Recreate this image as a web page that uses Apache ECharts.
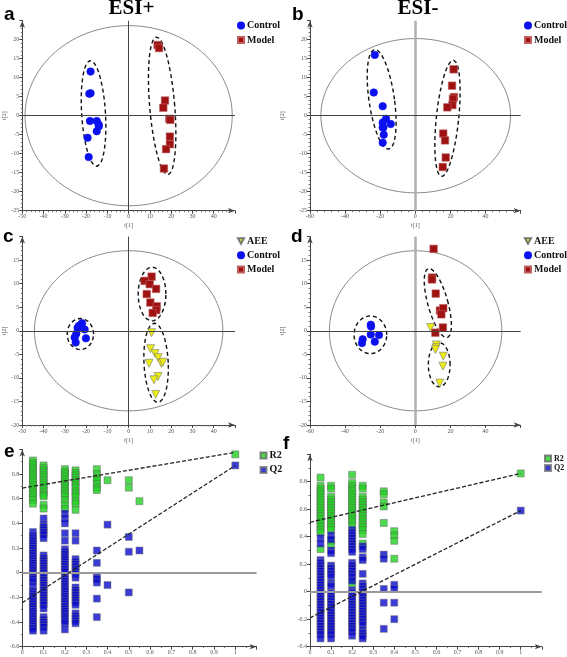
<!DOCTYPE html>
<html><head><meta charset="utf-8">
<script src="https://cdn.jsdelivr.net/npm/echarts@6/dist/echarts.min.js"></script>
<style>html,body{margin:0;padding:0;background:#fff}#c{width:567px;height:657px}</style>
</head><body><div id="c"></div>
<script>
// ---------- DATA ----------
// Score plots (t[1], t[2])
const aControl = [[-17.9,11.6],[-18.5,5.8],[-17.9,5.9],[-18.2,-1.4],[-15.0,-1.4],[-14.1,-2.3],[-14.0,-2.8],[-15.0,-4.1],[-19.3,-5.8],[-18.8,-10.9]];
const aModel   = [[13.6,18.6],[14.3,17.8],[17.1,4.0],[16.3,2.1],[19.1,-0.8],[19.6,-1.1],[19.4,-5.5],[19.4,-7.5],[17.6,-8.8],[16.6,-13.9]];
const bControl = [[-23.1,16.0],[-23.7,6.1],[-18.6,2.5],[-16.7,-0.8],[-18.6,-1.8],[-18.2,-3.1],[-18.6,-3.1],[-14.0,-2.2],[-18.0,-5.0],[-18.6,-7.1]];
const bModel   = [[21.8,12.2],[20.9,7.9],[22.0,4.9],[21.4,4.4],[21.1,2.8],[18.2,2.2],[15.9,-4.7],[16.9,-6.5],[17.3,-11.0],[15.6,-13.5]];
const cControl = [[-21.9,1.6],[-22.9,1.1],[-23.5,1.0],[-24.0,0.6],[-20.7,0.3],[-24.6,-0.6],[-25.4,-1.4],[-20.1,-1.6],[-24.9,-2.5]];
const cModel   = [[10.8,11.5],[7.5,10.6],[9.9,9.9],[12.9,8.9],[8.5,7.8],[10.2,6.0],[13.2,5.2],[13.0,4.4],[11.3,3.8]];
const cAEE     = [[10.8,-0.4],[10.3,-3.8],[12.4,-4.8],[13.9,-5.7],[9.6,-6.9],[15.4,-6.9],[16.1,-6.7],[13.8,-9.7],[11.9,-10.4],[12.7,-13.5]];
const dControl = [[-25.4,1.3],[-25.2,0.9],[-25.4,-0.8],[-20.7,-0.9],[-23.1,-2.3],[-30.0,-1.8],[-30.4,-2.6]];
const dModel   = [[10.4,17.4],[9.5,11.3],[9.5,10.9],[11.6,7.9],[14.0,4.3],[15.9,4.8],[14.8,3.5],[15.7,0.7],[11.4,-0.4]];
const dAEE     = [[8.7,0.7],[12.0,-3.0],[11.8,-3.6],[11.4,-4.0],[15.9,-5.4],[15.7,-7.5],[13.9,-11.1]];

// Ellipses: [cx, cy, rx, ry, shear]
const aEllipses = [[0,0,48.7,23.7,0],[-16.5,0.6,5.6,13.9,-1.45],[15.75,2.6,5.9,18.1,-2.6]];
const bEllipses = [[0.2,0,54,20.3,0],[-19.2,4.3,7.3,13.1,-3.8],[18.3,-0.7,6.4,15.3,3.3]];
const cEllipses = [[0,0,44.3,17,0],[-22.7,-0.7,6.2,3.3,0],[11,7.8,6.5,5.7,0],[12.9,-6.8,5.7,8.4,-0.8]];
const dEllipses = [[0.15,0,49.1,17,0],[-25.6,-0.85,9.3,4.0,0],[12.8,5.9,5.9,7.35,-5.0],[13.6,-7.2,6.2,4.7,0]];

// Permutation tests
const permX = [0.05,0.1,0.2,0.25,0.35,0.4,0.5,0.55,1];
const eR2 = [
 [0.91,0.89,0.87,0.85,0.83,0.81,0.79,0.77,0.75,0.73,0.71,0.69,0.67,0.65,0.63,0.61,0.59,0.56],
 [0.87,0.85,0.83,0.81,0.79,0.77,0.75,0.73,0.71,0.69,0.67,0.65,0.63,0.62,0.55,0.52],
 [0.84,0.82,0.80,0.78,0.76,0.74,0.72,0.70,0.68,0.66,0.64,0.62,0.59,0.55,0.52],
 [0.83,0.81,0.79,0.77,0.75,0.73,0.71,0.69,0.66,0.64,0.62,0.58,0.56,0.51],
 [0.84,0.80,0.77,0.75,0.72,0.69,0.67],
 [0.75],
 [0.75,0.69],
 [0.58],
 [0.96]
];
const eQ2 = [
 [0.33,0.30,0.28,0.26,0.24,0.22,0.20,0.18,0.16,0.14,0.12,0.10,0.08,0.06,0.04,0.02,0.00,-0.02,-0.05,-0.07,-0.11,-0.15,-0.17,-0.19,-0.21,-0.23,-0.25,-0.27,-0.29,-0.31,-0.33,-0.35,-0.37,-0.39,-0.41,-0.43,-0.45,-0.47],
 [0.44,0.39,0.37,0.35,0.33,0.31,0.28,0.14,0.12,0.10,0.08,0.06,0.04,0.02,0.00,-0.02,-0.04,-0.06,-0.08,-0.10,-0.12,-0.14,-0.16,-0.18,-0.20,-0.22,-0.24,-0.26,-0.29,-0.36,-0.38,-0.40,-0.42,-0.44,-0.47],
 [0.48,0.44,0.40,0.32,0.26,0.19,0.17,0.15,0.13,0.11,0.09,0.07,0.05,0.03,0.01,-0.03,-0.05,-0.07,-0.09,-0.11,-0.13,-0.15,-0.17,-0.19,-0.21,-0.23,-0.25,-0.27,-0.29,-0.31,-0.33,-0.35,-0.37,-0.39,-0.41,-0.46],
 [0.32,0.26,0.11,0.09,0.07,0.05,0.03,0.01,-0.01,-0.04,-0.12,-0.14,-0.16,-0.18,-0.20,-0.22,-0.24,-0.26,-0.33,-0.35,-0.37,-0.39,-0.41],
 [0.18,0.08,-0.03,-0.05,-0.08,-0.21,-0.36],
 [0.39,-0.10],
 [0.29,0.17,-0.16],
 [0.18],
 [0.87]
];
const eR2Line = [0.686, 0.976];
const eQ2Line = [-0.243, 0.87];

const fPermX = [0.05,0.1,0.2,0.25,0.35,0.4,1];
const fR2 = [
 [0.83,0.77,0.75,0.73,0.71,0.69,0.67,0.65,0.63,0.61,0.59,0.57,0.55,0.53,0.51,0.49,0.47,0.45,0.43,0.31],
 [0.77,0.75,0.69,0.67,0.65,0.63,0.61,0.59,0.57,0.55,0.53,0.51,0.49,0.47,0.45,0.37,0.34],
 [0.85,0.79,0.77,0.75,0.73,0.71,0.69,0.67,0.65,0.63,0.61,0.59,0.57,0.55,0.53,0.51,0.48,0.06],
 [0.77,0.75,0.69,0.67,0.65,0.63,0.61,0.59,0.57,0.55,0.53,0.51,0.49,0.47,0.45,0.42,0.35],
 [0.73,0.71,0.65,0.62,0.50],
 [0.44,0.41,0.37,0.24],
 [0.86]
];
const fQ2 = [
 [0.39,0.35,0.23,0.21,0.19,0.17,0.15,0.13,0.11,0.09,0.07,0.05,0.03,0.01,-0.01,-0.03,-0.05,-0.07,-0.09,-0.11,-0.13,-0.15,-0.17,-0.19,-0.21,-0.23,-0.25,-0.27,-0.29,-0.31,-0.34],
 [0.41,0.38,0.30,0.28,0.19,0.17,0.15,0.13,0.11,0.06,0.04,-0.01,-0.03,-0.05,-0.07,-0.09,-0.11,-0.13,-0.15,-0.17,-0.19,-0.21,-0.23,-0.25,-0.27,-0.29,-0.31,-0.34],
 [0.45,0.43,0.41,0.39,0.37,0.35,0.33,0.31,0.29,0.21,0.19,0.17,0.15,0.13,0.11,0.08,0.01,-0.01,-0.03,-0.05,-0.07,-0.09,-0.11,-0.13,-0.15,-0.17,-0.19,-0.21,-0.23,-0.25,-0.27,-0.29,-0.32],
 [0.33,0.31,0.25,0.23,0.13,0.06,0.04,0.02,0.00,-0.02,-0.04,-0.06,-0.08,-0.10,-0.12,-0.14,-0.16,-0.18,-0.20,-0.22,-0.24,-0.28,-0.30,-0.32,-0.34],
 [0.27,0.24,0.02,-0.08,-0.27],
 [0.05,0.02,-0.08,-0.20],
 [0.59]
];
const fR2Line = [0.505, 0.86];
const fQ2Line = [-0.19, 0.59];

// ---------- BUILD ----------
const SERIF = '"Liberation Serif","Times New Roman",serif';
const C_CONTROL = '#0b10ee', C_MODEL = '#9e1212', C_AEE = '#ecec10', C_R2 = '#22d022', C_Q2 = '#0a0acc';
const TRI = 'path://M0,0L10,0L5,9Z';

const grids = [
  {left:22.3, top:20.7, width:212.7, height:190},
  {left:310, top:20.7, width:210.7, height:190},
  {left:22.3, top:236.6, width:212.7, height:188.4},
  {left:310, top:236.6, width:210.7, height:188.4},
  {left:22.3, top:449.4, width:234.3, height:197.3},
  {left:310, top:454.2, width:231.8, height:192.5}
];

function mkAxis(dim, gi, min, max, interval, minorSplit, name, nameGap){
  const ax = {gridIndex:gi, type:'value', min:min, max:max, interval:interval,
    axisLine:{show:true, onZero:false, symbol:['none','arrow'], symbolSize:[4,7], lineStyle:{color:'#444', width:1}},
    axisTick:{show:true, length:3, lineStyle:{color:'#444'}},
    minorTick:{show:true, splitNumber:minorSplit, length:1.5, lineStyle:{color:'#777'}},
    axisLabel:{fontSize:6, color:'#555', fontFamily:SERIF, margin:3, showMaxLabel:false},
    splitLine:{show:false}, minorSplitLine:{show:false},
    name:name||'', nameLocation:'middle', nameGap:nameGap||12,
    nameTextStyle:{fontSize:6, color:'#555', fontFamily:SERIF}};
  if (dim==='y') ax.nameRotate = 90;
  return ax;
}

const xAxis = [
  mkAxis('x',0,-50,50,10,5,'t[1]',12),
  mkAxis('x',1,-60,60,20,5,'t[1]',12),
  mkAxis('x',2,-50,50,10,5,'t[1]',12),
  mkAxis('x',3,-60,60,20,5,'t[1]',12),
  mkAxis('x',4,0,1.1,0.1,2,'',12),
  mkAxis('x',5,0,1.1,0.1,2,'',12)
];
const yAxis = [
  mkAxis('y',0,-25,25,5,5,'t[2]',15),
  mkAxis('y',1,-25,25,5,5,'t[2]',25),
  mkAxis('y',2,-20,20,5,5,'t[2]',15),
  mkAxis('y',3,-20,20,5,5,'t[2]',25),
  mkAxis('y',4,-0.6,1.0,0.2,2,'',15),
  mkAxis('y',5,-0.4,1.0,0.2,2,'',15)
];

function ellPts(p){
  const [cx,cy,rx,ry,sx] = p; const pts = [];
  for (let i=0;i<=144;i++){ const t = i/144*2*Math.PI; pts.push([cx+rx*Math.cos(t)+sx*Math.sin(t), cy+ry*Math.sin(t)]); }
  return pts;
}

const series = [];
function addEllipses(gi, list, vertStyle){
  list.forEach((p,i)=>{
    const s = {type:'line', xAxisIndex:gi, yAxisIndex:gi, data:ellPts(p), showSymbol:false, symbol:'none', silent:true, animation:false,
      lineStyle: i===0 ? {color:'#8a8a8a', width:1} : {color:'#111', width:1.4, type:[4,3]}, z:1};
    if (i===0){
      s.markLine = {silent:true, symbol:['none','none'], label:{show:false}, animation:false,
        data:[{xAxis:0, lineStyle:vertStyle}, {yAxis:0, lineStyle:{color:'#444', width:1, type:'solid'}}]};
    }
    series.push(s);
  });
}
function scat(gi, name, data, sym, color, border, size){
  series.push({type:'scatter', name:name, xAxisIndex:gi, yAxisIndex:gi, data:data, symbol:sym, symbolSize:size,
    itemStyle:{color:color, borderColor:border, borderWidth:0.6, opacity:1}, animation:false, z:3});
}
const darkVert = {color:'#444', width:1, type:'solid'};
const lightVert = {color:'#b0b0b0', width:2.5, type:'solid'};
const M_BORDER = '#c06060';

addEllipses(0, aEllipses, darkVert);
scat(0,'Control',aControl,'circle',C_CONTROL,C_CONTROL,7.5);
scat(0,'Model',aModel,'rect',C_MODEL,M_BORDER,7.5);

addEllipses(1, bEllipses, lightVert);
scat(1,'Control',bControl,'circle',C_CONTROL,C_CONTROL,7.5);
scat(1,'Model',bModel,'rect',C_MODEL,M_BORDER,7.5);

addEllipses(2, cEllipses, darkVert);
scat(2,'AEE',cAEE,TRI,C_AEE,'#777',8);
scat(2,'Control',cControl,'circle',C_CONTROL,C_CONTROL,7.5);
scat(2,'Model',cModel,'rect',C_MODEL,M_BORDER,7.5);

addEllipses(3, dEllipses, lightVert);
scat(3,'AEE',dAEE,TRI,C_AEE,'#777',8);
scat(3,'Control',dControl,'circle',C_CONTROL,C_CONTROL,7.5);
scat(3,'Model',dModel,'rect',C_MODEL,M_BORDER,7.5);

function pairs(xs, cols){ const out=[]; cols.forEach((col,i)=>col.forEach(v=>out.push([xs[i], v]))); return out; }
function addPerm(gi, xs, r2, q2, r2Line, q2Line){
  series.push({type:'line', xAxisIndex:gi, yAxisIndex:gi, data:[[0,r2Line[0]],[1,r2Line[1]]], showSymbol:false, symbol:'none', silent:true,
    lineStyle:{color:'#222', width:1.3, type:[4,2]}, z:5, animation:false,
    markLine:{silent:true, symbol:['none','none'], label:{show:false}, animation:false,
      data:[{yAxis:0}], lineStyle:{color:'#9a9a9a', width:1.8, type:'solid'}}});
  series.push({type:'line', xAxisIndex:gi, yAxisIndex:gi, data:[[0,q2Line[0]],[1,q2Line[1]]], showSymbol:false, symbol:'none', silent:true,
    lineStyle:{color:'#222', width:1.3, type:[4,2]}, z:5, animation:false});
  series.push({type:'scatter', name:'R2', xAxisIndex:gi, yAxisIndex:gi, data:pairs(xs, r2), symbol:'rect', symbolSize:7,
    itemStyle:{color:C_R2, borderColor:'#666', borderWidth:0.6}, animation:false, z:3});
  series.push({type:'scatter', name:'Q2', xAxisIndex:gi, yAxisIndex:gi, data:pairs(xs, q2), symbol:'rect', symbolSize:7,
    itemStyle:{color:C_Q2, borderColor:'#777', borderWidth:0.6}, animation:false, z:3});
}
addPerm(4, permX, eR2, eQ2, eR2Line, eQ2Line);
addPerm(5, fPermX, fR2, fQ2, fR2Line, fQ2Line);

function mkLegend(names, left, top, fs, gap){
  return {show:true, orient:'vertical', left:left, top:top, padding:0, itemGap:gap, itemWidth:6, itemHeight:6, selectedMode:false,
    data:names.map(n=>n==='AEE'?{name:n, icon:TRI}:n),
    textStyle:{fontFamily:SERIF, fontWeight:'bold', fontSize:fs, color:'#111', padding:[0,0,0,-2]}};
}
const legend = [
  mkLegend(['Control','Model'], 237, 20.5, 10, 4.5),
  mkLegend(['Control','Model'], 524, 20.5, 10, 4.5),
  mkLegend(['AEE','Control','Model'], 237, 236, 10, 4.2),
  mkLegend(['AEE','Control','Model'], 524, 236, 10, 4.2),
  mkLegend(['R2','Q2'], 259.5, 450.5, 10, 4.4),
  mkLegend(['R2','Q2'], 544, 454.5, 8, 1.5)
];

function label(t, x, y, font, align){
  return {type:'text', x:x, y:y, style:{text:t, font:font, fill:'#000', align:align||'left', verticalAlign:'middle'}, z:10};
}
const LF = 'bold 19px "Liberation Sans", Arial, sans-serif';
const TF = 'bold 21px "Liberation Serif", "Times New Roman", serif';
const graphic = [
  label('a', 4, 14.5, LF), label('b', 292, 14.5, LF), label('c', 3, 236.5, LF),
  label('d', 291, 236.5, LF), label('e', 4, 451.5, LF), label('f', 283, 444, LF),
  label('ESI+', 131.5, 9, TF, 'center'), label('ESI-', 418, 9, TF, 'center')
];

const chart = echarts.init(document.getElementById('c'), null, {renderer:'canvas'});
chart.setOption({animation:false, backgroundColor:'#fff', grid:grids, xAxis:xAxis, yAxis:yAxis, series:series, legend:legend, graphic:graphic});
</script>
</body></html>
